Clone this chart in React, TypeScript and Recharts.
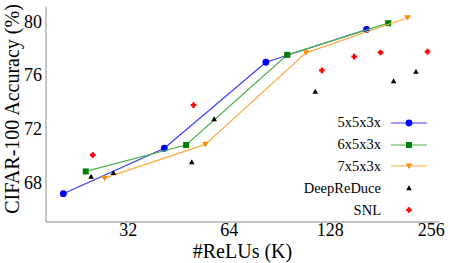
import { Scatter, ScatterChart, XAxis, YAxis } from "recharts"

// #ReLUs (K) and accuracy
const relus553 = [20.5, 41.0, 82.3, 164.2]
const acc553 = [67.2, 70.57, 76.95, 79.38]
const relus653 = [23.9, 47.6, 95.3, 190.6]
const acc653 = [68.85, 70.81, 77.5, 79.85]
const relus753 = [27.2, 54.3, 108.3, 217.6]
const acc753 = [68.35, 70.86, 77.65, 80.25]
const relusDeepReDuce = [24.8, 28.9, 49.5, 57.7, 115.5, 197.7, 230.5]
const accDeepReDuce = [68.48, 68.75, 69.55, 72.73, 74.78, 75.56, 76.27]
const relusSNL = [25.1, 50.1, 120.9, 150.9, 180.8, 249.6]
const accSNL = [70.07, 73.77, 76.35, 77.37, 77.67, 77.74]

const xTicks = [32, 64, 128, 256]
const yTicks = [68, 72, 76, 80]

const zip = (xs: number[], ys: number[]) => xs.map((x, i) => ({ x, y: ys[i] }))

const FONT = "'Liberation Serif', 'Times New Roman', serif"
const FRAME = "#888"

const Circle = ({ cx, cy, fill }: any) => <circle cx={cx} cy={cy} r={3.4} fill={fill} />
const Square = ({ cx, cy, fill }: any) => <rect x={cx - 3} y={cy - 3} width={6} height={6} fill={fill} />
const TriDown = ({ cx, cy, fill }: any) => (
  <polygon points={`${cx - 3.3},${cy - 2.5} ${cx + 3.3},${cy - 2.5} ${cx},${cy + 3}`} fill={fill} />
)
const TriUp = ({ cx, cy, fill }: any) => (
  <polygon points={`${cx - 2.8},${cy + 2.2} ${cx + 2.8},${cy + 2.2} ${cx},${cy - 2.8}`} fill={fill} />
)
const Plus = ({ cx, cy, fill }: any) => {
  const a = 1.2
  const b = 2.8
  const pts = [
    [-a, -b], [a, -b], [a, -a], [b, -a], [b, a], [a, a],
    [a, b], [-a, b], [-a, a], [-b, a], [-b, -a], [-a, -a],
  ]
  return <polygon points={pts.map(([dx, dy]) => `${cx + dx},${cy + dy}`).join(" ")} fill={fill} />
}

const series = [
  { name: "5x5x3x", data: zip(relus553, acc553), line: "#3a3aff", fill: "#0000ff", shape: Circle },
  { name: "6x5x3x", data: zip(relus653, acc653), line: "#4caf4c", fill: "#008000", shape: Square },
  { name: "7x5x3x", data: zip(relus753, acc753), line: "#ffa940", fill: "#ff8c00", shape: TriDown },
  { name: "DeepReDuce", data: zip(relusDeepReDuce, accDeepReDuce), line: "", fill: "#000000", shape: TriUp },
  { name: "SNL", data: zip(relusSNL, accSNL), line: "", fill: "#ff0000", shape: Plus },
]

const LegendBox = () => (
  <div style={{ position: "absolute", left: 261, top: 112, fontFamily: FONT, fontSize: 14.5, color: "#000" }}>
    {series.map((s) => {
      const Shape = s.shape
      return (
        <div key={s.name} style={{ display: "flex", alignItems: "center", height: 21.8 }}>
          <span style={{ width: 120, textAlign: "right", lineHeight: "15px" }}>{s.name}</span>
          <svg width={46} height={12} style={{ marginLeft: 10 }}>
            {s.line && <line x1={0} y1={6} x2={36} y2={6} stroke={s.line} strokeWidth={1.2} />}
            <Shape cx={18} cy={6} fill={s.fill} />
          </svg>
        </div>
      )
    })}
  </div>
)

const YLabel = () => (
  <text x={0} y={0} transform="translate(19, 109) rotate(-90)" textAnchor="middle" fontFamily={FONT} fontSize={20} fill="#000">
    CIFAR-100 Accuracy (%)
  </text>
)

const XLabel = () => (
  <text x={242.5} y={258} textAnchor="middle" fontFamily={FONT} fontSize={20} fill="#000">
    #ReLUs (K)
  </text>
)

const tickStyle = { fontFamily: FONT, fontSize: 18, fill: "#000" }

export default function App() {
  return (
    <div style={{ position: "absolute", left: 0, top: 0, width: 450, height: 263, background: "#fff" }}>
      <ScatterChart width={450} height={263} margin={{ top: 7, right: 11, bottom: 0, left: 0 }}>
        <XAxis
          type="number"
          dataKey="x"
          scale="log"
          domain={[18.2, 270]}
          ticks={xTicks}
          allowDataOverflow
          height={41}
          tickLine={false}
          tickSize={0}
          tickMargin={1}
          axisLine={{ stroke: FRAME }}
          tick={tickStyle}
          label={<XLabel />}
        />
        <XAxis
          xAxisId="top"
          orientation="top"
          type="number"
          dataKey="x"
          scale="log"
          domain={[18.2, 270]}
          allowDataOverflow
          height={0}
          tick={false}
          tickLine={false}
          axisLine={{ stroke: FRAME }}
        />
        <YAxis
          type="number"
          dataKey="y"
          domain={[65.1, 81.05]}
          ticks={yTicks}
          allowDataOverflow
          width={46}
          tickLine={false}
          tickSize={0}
          tickMargin={4}
          axisLine={{ stroke: FRAME }}
          tick={tickStyle}
          label={<YLabel />}
        />
        <YAxis
          yAxisId="right"
          orientation="right"
          type="number"
          dataKey="y"
          domain={[65.1, 81.05]}
          allowDataOverflow
          width={0}
          tick={false}
          tickLine={false}
          axisLine={{ stroke: FRAME }}
        />
        {series.map((s) => (
          <Scatter
            key={s.name}
            name={s.name}
            data={s.data}
            fill={s.fill}
            line={s.line ? { stroke: s.line, strokeWidth: 1.2 } : false}
            shape={s.shape}
            isAnimationActive={false}
          />
        ))}
      </ScatterChart>
      <LegendBox />
    </div>
  )
}
